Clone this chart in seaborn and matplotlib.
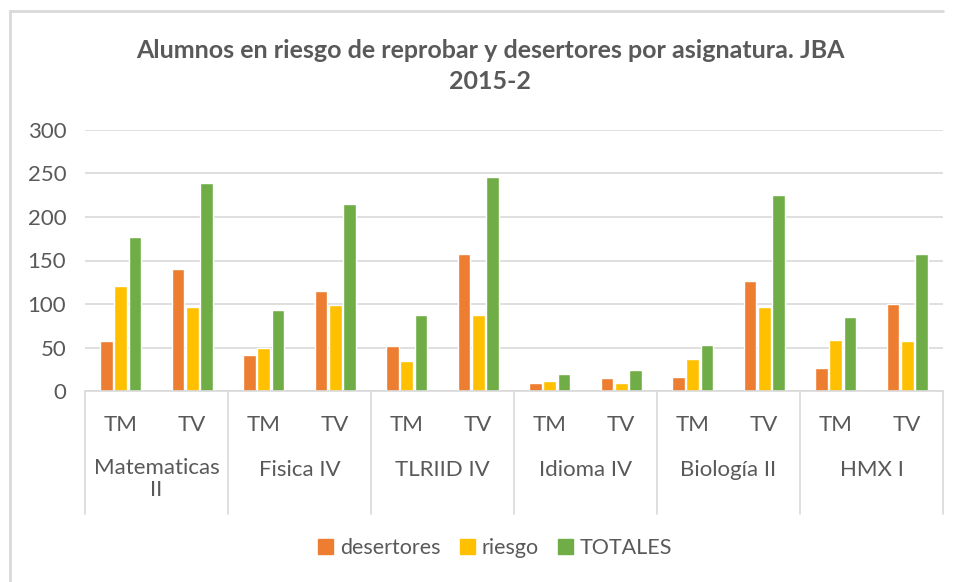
import matplotlib
matplotlib.use("Agg")
import matplotlib.pyplot as plt
from matplotlib.lines import Line2D
from matplotlib.patches import Rectangle
import seaborn as sns
import pandas as pd

# ---- data -------------------------------------------------------------
asignaturas = ["Matematicas\nII", "Fisica IV", "TLRIID IV", "Idioma IV", "Biología II", "HMX I"]
turnos = ["TM", "TV"]
series = ["desertores", "riesgo", "TOTALES"]

desertores = [57, 140, 41, 115, 52, 158, 9, 15, 16, 127, 27, 100]
riesgo = [121, 97, 50, 99, 34, 87, 11, 9, 37, 97, 59, 57]
totales = [177, 239, 93, 215, 87, 246, 20, 24, 53, 225, 85, 158]

colores = ["#ED7D31", "#FFC000", "#70AD47"]
titulo = "Alumnos en riesgo de reprobar y desertores por asignatura. JBA\n2015-2"

# ---- long-form table --------------------------------------------------
claves = [f"{a}|{t}" for a in asignaturas for t in turnos]
filas = []
for nombre, valores in zip(series, [desertores, riesgo, totales]):
    for k, v in zip(claves, valores):
        filas.append({"clave": k, "serie": nombre, "valor": v})
df = pd.DataFrame(filas)

# ---- style ------------------------------------------------------------
sns.set_theme(style="white")
plt.rcParams["font.family"] = ["Lato", "DejaVu Sans"]
gris_txt = "#595959"
gris_lin = "#D9D9D9"
fs = 16

W, H = 956, 582
fig = plt.figure(figsize=(W / 100, H / 100), dpi=100)
ax = fig.add_axes([85 / W, 1 - 391 / H, 858 / W, 261 / H])

sns.barplot(data=df, x="clave", y="valor", hue="serie", order=claves,
            hue_order=series, palette=colores, width=0.6, gap=0.12,
            saturation=1, ax=ax, legend=False)

ax.set_ylim(0, 300)
ax.set_xlim(-0.5, len(claves) - 0.5)
ax.set_yticks(range(0, 301, 50))
ax.yaxis.grid(True, color=gris_lin, linewidth=1.2)
ax.set_axisbelow(True)
for s in ["top", "right", "left"]:
    ax.spines[s].set_visible(False)
ax.spines["bottom"].set_color(gris_lin)
ax.spines["bottom"].set_linewidth(1.2)
ax.set_xlabel("")
ax.set_ylabel("")
ax.tick_params(axis="y", length=0, pad=13.5, labelsize=fs, labelcolor=gris_txt)
ax.tick_params(axis="x", length=0, pad=17, labelsize=fs, labelcolor=gris_txt)
ax.set_xticks(range(len(claves)))
ax.set_xticklabels([c.split("|")[1] for c in claves])

# group labels and separators of the two-level category axis
tr = ax.get_xaxis_transform()
y_sep = -(514 - 391) / 261
for i, a in enumerate(asignaturas):
    if "\n" in a:
        y_txt, va = -(458 - 391) / 261, "top"
    else:
        y_txt, va = -(470 - 391) / 261, "center"
    ax.text(2 * i + 0.5, y_txt, a, transform=tr, ha="center", va=va,
            fontsize=fs, color=gris_txt, linespacing=1.15)
for b in range(len(asignaturas) + 1):
    ax.add_line(Line2D([2 * b - 0.5] * 2, [0, y_sep], transform=tr,
                       color=gris_lin, linewidth=1.2, clip_on=False))

# title
fig.text(490 / W, 1 - 66 / H, titulo, ha="center", va="center",
         fontsize=18, fontweight="bold", color=gris_txt, linespacing=1.45)

# legend
manejadores = [Rectangle((0, 0), 1, 1, color=c) for c in colores]
fig.legend(manejadores, series, loc="center", bbox_to_anchor=(495 / W, 1 - 548 / H),
           ncol=3, frameon=False, fontsize=15.5, labelcolor=gris_txt,
           handlelength=0.7, handleheight=0.7, handletextpad=0.3, columnspacing=0.9)

# chart frame (left and top edges)
fig.add_artist(Line2D([10 / W, 10 / W], [0, 1 - 11 / H], transform=fig.transFigure,
                      color=gris_lin, linewidth=2))
fig.add_artist(Line2D([10 / W, 943 / W], [1 - 11 / H, 1 - 11 / H], transform=fig.transFigure,
                      color=gris_lin, linewidth=2))

fig.savefig("out.png", dpi=100, facecolor="white")
